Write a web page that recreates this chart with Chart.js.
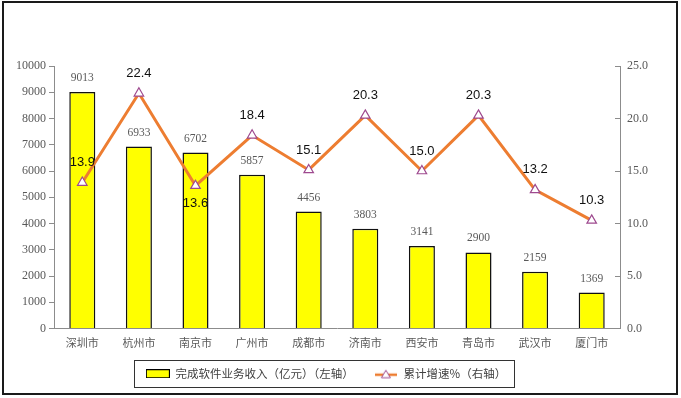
<!DOCTYPE html>
<html>
<head>
<meta charset="utf-8">
<script src="https://cdn.jsdelivr.net/npm/chart.js@4/dist/chart.umd.min.js"></script>
<style>
  html, body { margin: 0; padding: 0; background: #fff; }
  #wrap { position: relative; width: 681px; height: 398px; }
  #frame { position: absolute; left: 2px; top: 1px; width: 672px; height: 390px; border: 2px solid #1a1a1a; pointer-events: none; }
  #c { position: absolute; left: 0; top: 0; }
</style>
</head>
<body>
<div id="wrap">
  <canvas id="c" width="681" height="398"></canvas>
  <div id="frame"></div>
</div>
<script>
// data
const cities = ['深圳市', '杭州市', '南京市', '广州市', '成都市', '济南市', '西安市', '青岛市', '武汉市', '厦门市'];
const revenue = [9013, 6933, 6702, 5857, 4456, 3803, 3141, 2900, 2159, 1369];
const growth = [13.9, 22.4, 13.6, 18.4, 15.1, 20.3, 15.0, 20.3, 13.2, 10.3];
const legendNames = ['完成软件业务收入（亿元）（左轴）', '累计增速%（右轴）'];
const leftMax = 10000, leftStep = 1000;
const rightMax = 25, rightStep = 5;
const labelBelow = [2]; // growth labels drawn under the point

const axisGray = '#8c8c8c';
const textGray = '#595959';
const orange = '#ed7d31';
const purple = '#9e4a8f';

function barIcon() {
  const c = document.createElement('canvas');
  c.width = 24; c.height = 9;
  const g = c.getContext('2d');
  g.fillStyle = '#ffff00';
  g.fillRect(0, 0, 24, 9);
  g.strokeStyle = '#000';
  g.lineWidth = 1;
  g.strokeRect(0.5, 0.5, 23, 8);
  return c;
}

function lineIcon() {
  const c = document.createElement('canvas');
  c.width = 22; c.height = 12;
  const g = c.getContext('2d');
  g.strokeStyle = orange;
  g.lineWidth = 2.5;
  g.beginPath(); g.moveTo(0, 7); g.lineTo(22, 7); g.stroke();
  g.fillStyle = '#fff';
  g.strokeStyle = purple;
  g.lineWidth = 1;
  g.beginPath(); g.moveTo(11, 2.5); g.lineTo(15.5, 10); g.lineTo(6.5, 10); g.closePath();
  g.fill(); g.stroke();
  return c;
}

const valueLabels = {
  id: 'valueLabels',
  afterDatasetsDraw(chart) {
    const ctx = chart.ctx;
    ctx.save();
    ctx.textAlign = 'center';
    ctx.textBaseline = 'middle';
    ctx.font = '11.5px "Liberation Serif"';
    ctx.fillStyle = textGray;
    chart.getDatasetMeta(1).data.forEach((bar, i) => {
      ctx.fillText(String(revenue[i]), bar.x, bar.y - 14);
    });
    ctx.font = '13px "Liberation Sans"';
    ctx.fillStyle = '#111';
    chart.getDatasetMeta(0).data.forEach((pt, i) => {
      const below = labelBelow.includes(i);
      ctx.fillText(growth[i].toFixed(1), pt.x, below ? pt.y + 18 : pt.y - 20);
    });
    ctx.restore();
  }
};

const legendFrame = {
  id: 'legendFrame',
  afterDraw(chart) {
    const boxes = chart.legend.legendHitBoxes;
    if (!boxes || !boxes.length) return;
    const last = boxes[boxes.length - 1];
    const l = Math.round(boxes[0].left - 12);
    const r = Math.round(last.left + last.width + 8);
    const cy = boxes[0].top + boxes[0].height / 2;
    const ctx = chart.ctx;
    ctx.save();
    ctx.strokeStyle = '#333';
    ctx.lineWidth = 1;
    ctx.strokeRect(l + 0.5, Math.round(cy - 13.5) + 0.5, r - l, 27);
    ctx.restore();
  }
};

new Chart(document.getElementById('c').getContext('2d'), {
  data: {
    labels: cities,
    datasets: [{
      type: 'line',
      label: legendNames[1],
      data: growth,
      yAxisID: 'y1',
      order: 0,
      borderColor: orange,
      borderWidth: 3,
      tension: 0,
      pointStyle: 'triangle',
      pointRadius: 5.5,
      pointBackgroundColor: '#fff',
      pointBorderColor: purple,
      pointBorderWidth: 1.2
    }, {
      type: 'bar',
      label: legendNames[0],
      data: revenue,
      yAxisID: 'y',
      order: 1,
      backgroundColor: '#ffff00',
      borderColor: '#111',
      borderWidth: 1.5,
      barPercentage: 0.46,
      categoryPercentage: 1
    }]
  },
  options: {
    responsive: false,
    devicePixelRatio: 1,
    animation: false,
    layout: { padding: { top: 66, left: 0, right: 29, bottom: 8.5 } },
    plugins: {
      tooltip: { enabled: false },
      legend: {
        position: 'bottom',
        labels: {
          usePointStyle: true,
          pointStyleWidth: 24,
          padding: 20,
          color: '#404040',
          font: { family: '"Noto Sans CJK SC"', size: 11.5 },
          generateLabels: () => [
            { text: legendNames[0], pointStyle: barIcon(), fillStyle: 'transparent', strokeStyle: 'transparent', lineWidth: 0, fontColor: '#404040', datasetIndex: 1 },
            { text: legendNames[1], pointStyle: lineIcon(), fillStyle: 'transparent', strokeStyle: 'transparent', lineWidth: 0, fontColor: '#404040', datasetIndex: 0 }
          ]
        }
      }
    },
    scales: {
      x: {
        grid: { display: false, drawTicks: false },
        border: { display: true, color: axisGray, width: 1 },
        ticks: { color: textGray, font: { family: '"Noto Sans CJK SC"', size: 11 }, padding: 8, maxRotation: 0, autoSkip: false },
        afterFit(s) { s.height = 19.5; }
      },
      y: {
        position: 'left',
        min: 0,
        max: leftMax,
        ticks: { stepSize: leftStep, color: textGray, font: { family: '"Liberation Serif"', size: 12 }, padding: 3, callback: v => String(v) },
        grid: { drawOnChartArea: false, drawTicks: true, tickLength: 5, color: axisGray },
        border: { color: axisGray },
        afterFit(s) { s.width = 54; }
      },
      y1: {
        position: 'right',
        min: 0,
        max: rightMax,
        ticks: { stepSize: rightStep, color: textGray, font: { family: '"Liberation Serif"', size: 12 }, padding: 12, callback: v => v.toFixed(1) },
        grid: { drawOnChartArea: false, drawTicks: true, tickLength: -5, color: axisGray },
        border: { color: axisGray },
        afterFit(s) { s.width = 32; }
      }
    }
  },
  plugins: [valueLabels, legendFrame]
});
</script>
</body>
</html>
